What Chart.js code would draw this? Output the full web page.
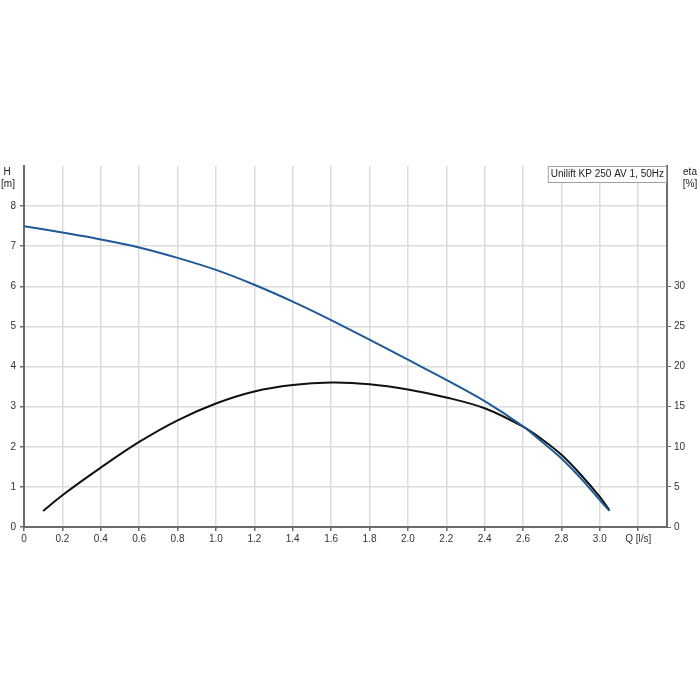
<!DOCTYPE html>
<html>
<head>
<meta charset="utf-8">
<script src="https://cdn.jsdelivr.net/npm/chart.js@4/dist/chart.umd.min.js"></script>
<style>
html,body{margin:0;padding:0;background:#fff;}
#wrap{width:700px;height:700px;}
</style>
</head>
<body>
<div id="wrap"><canvas id="c" width="700" height="700"></canvas></div>
<script>
const qHead = [0, 0.2, 0.4, 0.6, 0.8, 1.0, 1.2, 1.4, 1.6, 1.8, 2.0, 2.2, 2.4, 2.6, 2.7, 2.8, 2.9, 3.0, 3.05];
const headValues = [7.50, 7.34, 7.17, 6.97, 6.71, 6.41, 6.04, 5.62, 5.16, 4.67, 4.17, 3.67, 3.14, 2.51, 2.12, 1.71, 1.22, 0.67, 0.40];
const qEta = [0.1, 0.2, 0.4, 0.6, 0.8, 1.0, 1.2, 1.4, 1.6, 1.8, 2.0, 2.2, 2.4, 2.6, 2.7, 2.8, 2.9, 3.0, 3.05];
const etaValues = [2.0, 3.96, 7.4, 10.6, 13.3, 15.4, 16.9, 17.7, 18.0, 17.8, 17.15, 16.15, 14.8, 12.5, 10.9, 9.0, 6.55, 3.75, 2.1];
const legendText = "Unilift KP 250 AV 1, 50Hz";
const leftTitle = ["H", "[m]"];
const rightTitle = ["eta", "[%]"];
const xTitle = "Q [l/s]";

const FONT = "'Liberation Sans', Arial, sans-serif";
const tickFont = {family: FONT, size: 10};
const axisColor = '#6b6b6b';
const gridColor = '#dcdcdc';

const headPts = qHead.map((q, i) => ({x: q, y: headValues[i]}));
const etaPts = qEta.map((q, i) => ({x: q, y: etaValues[i]}));

const extras = {
  id: 'extras',
  afterDraw(chart) {
    const ctx = chart.ctx;
    const a = chart.chartArea;
    ctx.save();
    ctx.font = "10px " + FONT;
    ctx.fillStyle = '#222';
    ctx.textBaseline = 'middle';
    ctx.textAlign = 'center';
    ctx.fillText(leftTitle[0], 7, 172);
    ctx.fillText(leftTitle[1], 8, 184);
    ctx.fillText(rightTitle[0], 690, 172);
    ctx.fillText(rightTitle[1], 690, 184);
    const w = ctx.measureText(legendText).width;
    const bx = a.right - w - 6, by = a.top, bh = 16;
    ctx.fillStyle = '#fff';
    ctx.fillRect(bx, by, a.right - bx, bh);
    ctx.strokeStyle = '#a0a0a0';
    ctx.lineWidth = 1;
    ctx.strokeRect(bx + 0.5, by + 0.5, a.right - bx - 1, bh);
    ctx.fillStyle = '#222';
    ctx.textAlign = 'left';
    ctx.fillText(legendText, bx + 3, by + 8.5);
    ctx.restore();
  }
};

new Chart(document.getElementById('c'), {
  type: 'line',
  data: {
    datasets: [
      {label: 'H', data: headPts, yAxisID: 'y', borderColor: '#1f5a96', borderWidth: 2, pointRadius: 0, tension: 0.35, fill: false},
      {label: 'eta', data: etaPts, yAxisID: 'y2', borderColor: '#111111', borderWidth: 2, pointRadius: 0, tension: 0.35, fill: false}
    ]
  },
  options: {
    responsive: false,
    animation: false,
    layout: {padding: {top: 166, right: 0, left: 0, bottom: 0}},
    plugins: {legend: {display: false}, tooltip: {enabled: false}},
    scales: {
      x: {
        type: 'linear', min: 0, max: 3.35,
        afterFit(s) { s.height = 173; },
        border: {color: axisColor, width: 2},
        grid: {color: gridColor, lineWidth: 1.5, tickLength: 4, tickColor: axisColor},
        ticks: {
          stepSize: 0.2, includeBounds: false, autoSkip: false, maxRotation: 0,
          font: tickFont, color: '#333', padding: 2,
          callback(v) {
            const r = Math.round(v * 10) / 10;
            if (Math.abs(r - 3.2) < 1e-6) return xTitle;
            if (r === 0) return '0';
            return r.toFixed(1);
          }
        }
      },
      y: {
        type: 'linear', position: 'left', min: 0, max: 9,
        afterFit(s) { s.width = 24; },
        border: {color: axisColor, width: 2},
        grid: {
          color: (c) => (c.tick && c.tick.value >= 9) ? 'rgba(0,0,0,0)' : gridColor,
          tickColor: (c) => (c.tick && c.tick.value >= 9) ? 'rgba(0,0,0,0)' : axisColor,
          lineWidth: 1.5, tickLength: 4
        },
        ticks: {stepSize: 1, font: tickFont, color: '#333', padding: 4,
          callback(v) { return v >= 9 ? '' : String(v); }}
      },
      y2: {
        type: 'linear', position: 'right', min: 0, max: 45,
        afterFit(s) { s.width = 33; },
        border: {color: axisColor, width: 2},
        grid: {drawOnChartArea: false, tickLength: 4,
          tickColor: (c) => (c.tick && c.tick.value > 30) ? 'rgba(0,0,0,0)' : axisColor},
        ticks: {stepSize: 5, font: tickFont, color: '#333', padding: 3,
          callback(v) { return v > 30 ? '' : String(v); }}
      }
    }
  },
  plugins: [extras]
});
</script>
</body>
</html>
